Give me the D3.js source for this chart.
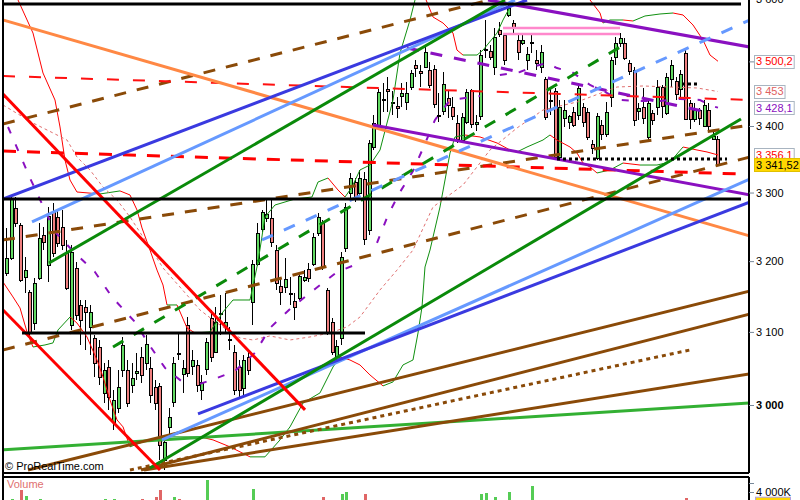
<!DOCTYPE html>
<html><head><meta charset="utf-8">
<script src="https://cdn.jsdelivr.net/npm/d3@7"></script>
<style>body{margin:0;background:#fff;}svg{display:block;font-family:"Liberation Sans",Arial,sans-serif;}</style>
</head><body><svg id="c" width="800" height="500"></svg>
<script>
// ---------- DATA ----------
const openP  = [3183,3205,3277,3252,3177,3156,3112,3176,3238,3194,3271,3264,3249,3212,3110,3190,3138,3135,3107,3092,
3079,3016,3052,2977,2996,3048,3048,3027,3043,3065,3057,3050,3024,3026,2927,2971,3004,3071,3042,3110,
3053,3054,3020,3049,3119,3072,3125,3108,3090,3072,3052,3023,3065,3142,3196,3246,3262,3262,3216,3164,
3163,3155,3143,3148,3173,3189,3196,3241,3255,3159,3114,3065,3092,3219,3299,3316,3299,3320,3245,3368,
3402,3441,3457,3437,3431,3446,3437,3460,3494,3485,3491,3486,3488,3417,3423,3443,3429,3405,3379,3406,
3455,3403,3415,3519,3516,3491,3550,3542,3574,3561,3534,3529,3502,3531,3502,3491,3472,3440,3454,3353,
3412,3406,3421,3417,3429,3421,3373,3352,3402,3388,3445,3507,3529,3529,3497,3486,3423,3429,3384,3420,
3429,3460,3420,3472,3469,3457,3513,3435,3411,3425,3400,3425,3380,3380];
const highP  = [3248,3295,3293,3255,3206,3159,3176,3255,3249,3279,3285,3274,3274,3231,3223,3199,3145,3145,3138,3096,
3089,3057,3061,3020,3048,3093,3061,3057,3071,3079,3096,3065,3034,3030,2957,2996,3065,3098,3061,3121,
3075,3061,3041,3092,3131,3135,3152,3155,3107,3082,3061,3068,3075,3202,3255,3274,3289,3289,3223,3177,
3205,3177,3155,3180,3187,3197,3241,3270,3260,3162,3119,3089,3213,3285,3329,3322,3334,3331,3379,3417,
3457,3466,3476,3454,3445,3466,3468,3487,3502,3494,3523,3499,3494,3451,3483,3454,3445,3417,3420,3457,
3457,3417,3518,3566,3526,3553,3562,3545,3591,3566,3542,3542,3523,3542,3518,3526,3476,3459,3459,3440,
3440,3417,3429,3466,3435,3428,3379,3420,3409,3437,3507,3539,3545,3537,3502,3491,3435,3459,3443,3425,
3471,3463,3482,3502,3476,3487,3518,3440,3435,3428,3440,3435,3394,3385];
const lowP   = [3179,3202,3249,3170,3155,3093,3103,3173,3216,3170,3206,3220,3216,3159,3103,3117,3082,3075,3068,3038,
3027,3003,2993,2967,2989,3038,2997,3016,3034,3030,3048,3003,2993,2927,2914,2957,2997,3061,3016,3038,
3041,3018,3007,3041,3058,3071,3096,3098,3075,3014,3010,3014,3041,3110,3193,3242,3257,3220,3159,3138,
3155,3138,3117,3145,3170,3170,3193,3236,3187,3096,3068,3061,3082,3213,3289,3286,3293,3223,3238,3363,
3399,3421,3421,3417,3412,3429,3425,3456,3476,3460,3490,3459,3428,3406,3417,3412,3409,3374,3374,3403,
3397,3392,3409,3505,3502,3479,3538,3494,3570,3542,3502,3526,3487,3513,3487,3482,3409,3417,3348,3348,
3398,3395,3398,3409,3399,3379,3357,3349,3379,3383,3429,3494,3523,3502,3479,3400,3409,3403,3379,3402,
3417,3412,3417,3460,3440,3440,3409,3395,3406,3402,3398,3394,3379,3339];
const closeP = [3205,3292,3255,3173,3187,3098,3169,3233,3228,3265,3212,3226,3223,3162,3213,3124,3117,3128,3128,3057,
3038,3048,3011,3007,3024,3082,3003,3037,3046,3041,3083,3014,3003,2947,2951,2984,3057,3070,3050,3043,
3061,3027,3031,3086,3065,3114,3126,3114,3090,3020,3020,3061,3048,3196,3241,3271,3268,3228,3169,3156,
3174,3155,3135,3179,3177,3176,3235,3264,3192,3100,3072,3080,3206,3279,3322,3293,3322,3232,3374,3405,
3452,3442,3454,3436,3428,3451,3451,3482,3490,3482,3515,3463,3434,3416,3465,3432,3415,3380,3414,3452,
3403,3406,3510,3519,3507,3539,3543,3502,3585,3554,3515,3534,3511,3531,3497,3515,3414,3440,3353,3429,
3425,3415,3402,3459,3406,3383,3366,3415,3388,3421,3502,3529,3537,3505,3485,3409,3428,3412,3435,3409,
3460,3431,3476,3494,3449,3480,3411,3411,3425,3412,3432,3400,3385,3341.52];
// volume in thousands (only the tallest bars reach the visible strip)
const volumeK = [2500,3222,2500,4222,3556,2500,2500,3200,2500,2500,2500,2500,2500,2500,2500,2500,2500,2500,2500,2500,
2500,3200,2500,3200,2500,2500,2500,2500,2500,3200,2500,2500,3444,4222,2500,2500,3444,3200,2500,2500,
2500,2500,2500,5333,2500,2500,2500,2500,2500,2500,2500,2500,2500,4333,2500,2500,2500,2500,2500,2500,
2500,2500,2500,2500,2500,2500,2500,2500,3444,2500,2500,2500,3778,4000,2500,2500,2500,3778,2500,2500,
2500,2500,2500,2500,2500,2500,2500,2500,2500,2500,2500,2500,2500,2500,2500,2500,2500,2500,2500,2500,
2500,2500,3778,3889,2500,3444,2500,2500,4000,2500,2500,2500,2500,4667,2500,2500,2500,2500,2500,2500,
2500,2500,2500,2500,2500,2500,2500,2500,2500,2500,2500,2500,2500,2500,2500,2500,2500,2500,2500,2500,
2500,2500,2500,2500,2500,2500,3333,2500,2500,2500,2500,2500,2500,2700];

// Bollinger-type bands: [bar index, price]
const upperBand = [[2.37,3597.7],[5.59,3544.8],[7.74,3481.8],[10.32,3439.9],[11.4,3398.5],[12.47,3348.5],[13.55,3318.6],
[15.05,3300.8],[20,3297.9],[24.3,3302.4],[26.45,3296.4],[27.96,3274.3],[29.03,3248],[30.75,3216],[32.26,3187.2],
[33.55,3165.9],[34.41,3137.7],[36.56,3137.7],[38.71,3105.5],[40.43,3098.5],[43.66,3100],[46.45,3127.9],[48.6,3144.7],
[52.26,3144.7],[53.98,3198.7],[55.48,3264],[57.63,3281.6],[61.94,3290.5],[65.59,3293.4],[66.88,3315.6],[69.03,3321.6],
[71.18,3303.8],[72.69,3293.4],[74.19,3308.1],[75.91,3333.6],[78.06,3341],[80.22,3363.6],[83.01,3439.9],[84.52,3513.1],
[86.67,3565.6],[87.74,3597.7],[88.82,3622],[91.61,3570.4],[93.76,3560.8],[95.91,3544.8],[96.77,3517.8],[98.06,3510],
[101.08,3510],[102.37,3517.8],[105.38,3544.8],[106.67,3565.6],[108.17,3586.5],[110.32,3613.9],[124.3,3613.9],
[125.38,3597.7],[127.53,3576.8],[128.17,3560.8],[129.68,3565.6],[132.47,3565.6],[134.62,3564],[137.2,3572],
[140.43,3575.2],[143.23,3576.8],[145.38,3573.6],[147.53,3557.6],[149.68,3533.7],[151.18,3510],[152.9,3500.2]];
const middleBand = [[-0.86,3432.2],[5.59,3404.6],[9.89,3389.4],[12.9,3378.7],[15.05,3353],[17.85,3333.6],[20.65,3308.1],
[23.66,3289],[26.45,3264],[29.25,3234.9],[30.75,3220.4],[33.55,3190.2],[37.2,3163],[41.5,3130.7],[44.3,3116.6],
[47.31,3102.7],[50.11,3091.6],[52.9,3088.8],[56.56,3094.4],[60.86,3088.8],[65.16,3093],[69.46,3098.5],[73.12,3107],
[75.91,3120.8],[80.22,3158.9],[83.87,3187.2],[87.31,3216],[91.61,3278.7],[98.06,3311.1],[103.87,3363.6],[109.68,3397],
[115.27,3424.5],[122.58,3436.8],[131.18,3460],[136.77,3461.6],[142.58,3460],[148.39,3458.5],[152.9,3453]];
const lowerBand = [[-0.86,3170.2],[1.29,3149],[2.8,3133.5],[4.3,3100],[5.59,3079.1],[8.17,3081.9],[9.89,3084.7],
[10.97,3102.7],[13.55,3120.8],[15.05,3112.4],[17.2,3093],[19.35,3061.2],[20.65,3038],[22.15,3006.8],[23.66,2980],
[24.95,2970.7],[26.45,2944.2],[28.6,2949.4],[32.9,2957.4],[37.2,2957.4],[41.5,2957.4],[44.3,2953.4],[47.96,2944.2],
[52.26,2931],[55.48,2931],[58.71,2953.4],[60.86,2970.7],[63.66,3002.8],[67.31,3016.3],[70.11,3051.6],[71.61,3065.3],
[73.76,3061.2],[75.91,3054.4],[78.06,3040.7],[80.86,3025.8],[83.01,3031.2],[85.16,3054.4],[87.31,3061.2],[88.39,3098.5],
[89.25,3134.9],[89.89,3191.6],[90.97,3216],[93.12,3278.7],[95.27,3359],[96.34,3383.3],[98.49,3386.3],[101.72,3383.3],
[105.38,3374.2],[108.17,3363.6],[109.68,3360.6],[111.83,3368.1],[115.27,3378.7],[116.77,3386.3],[118.28,3378.7],
[121.08,3368.1],[122.58,3359],[123.87,3344],[125.38,3338],[126.88,3329.1],[129.68,3333.6],[132.47,3344],[136.13,3341],
[139.78,3341],[142.58,3345.5],[145.38,3368.1],[148.39,3363.6],[150.54,3360.6],[152.9,3356.1]];
// stop-and-reverse style dotted indicator, in legs
const sarLegs = [
 [[0.22,3398.5],[4.95,3321.6],[10.32,3242.1],[13.98,3216],[18.92,3184.4],[22.58,3148.9],[27.53,3113.8],[30.75,3080.5],[33.98,3050.3],[38.28,3028.5]],
 [[41.5,3028.5],[45.16,3036.6],[49.03,3046.2],[53.33,3070.9],[56.56,3105.5],[60.86,3132.1],[66.24,3160.3],[70.97,3184.4],[76.34,3198.7]],
 [[79.57,3226.2],[81.94,3267],[84.52,3300.8],[87.31,3332.1],[89.68,3369.6],[92.04,3409.2],[95.27,3439.9],[98.49,3443],[101.72,3446.1]],
 [[106,3478.6],[110.3,3483.3],[113.5,3492.6],[116.13,3497.3],[118.28,3489.5],[121.5,3483.3],[125.38,3463.2],[128.6,3452.3],[131.83,3439.9],
  [136.13,3438.4],[140.43,3438.4],[144.73,3441.5],[149.03,3439.9],[151.61,3430.7],[152.9,3428.1]]
];
// hand-drawn lines: name, start (bar index, price), end (bar index, price)
const drawnLines = [
 ["brownDashUp",-0.86,3403,103.66,3597.7],["brownDashMid",-0.86,3230.5,159.78,3401.5],["brownDashLow",-0.86,3075,159.78,3353],
 ["redDashThin",-0.86,3477.1,159.78,3439.9],["redDash",-0.86,3362.1,157.63,3327.6],
 ["lgreen",-0.86,2940.2,159.78,3002.8],
 ["brown1",4.52,2913.8,159.78,3157.5],["brown2",28.82,2913.8,159.78,3125],["brown3",26.45,2913.8,146.88,3075],["brown4",29.46,2913.8,159.78,3042.1],
 ["orange",-0.86,3565.6,159.78,3236.3],
 ["purpleDash",86.02,3521,151.61,3419.9],
 ["purpleUp",103.44,3597.7,159.78,3522.6],["purpleLow",78.71,3401.5,159.78,3296.4],
 ["greenDash",22.8,3079.1,133.33,3529],["lblueDash",54.84,3230.5,159.78,3565.6],
 ["lblueUp",5.38,3256.7,109.25,3597.7],["lblueLow",33.33,2953.4,159.78,3320.1],
 ["blueUp",-0.86,3290.5,111.83,3597.7],["blueLow",41.08,2988,159.78,3286.1],
 ["greenUp",9.03,3197.3,107.1,3597.7],["greenLow",30.75,2916.5,157.85,3410.7],
 ["red1",-0.86,3449.2,64.09,2993.4],["red2",-0.86,3130.7,32.9,2913.8],
 ["pink1",106.67,3552.8,131.83,3552.8],["pink2",106.67,3543.3,131.83,3543.3],
 ["black1",-0.86,3591.3,157.85,3591.3],["black2",-0.86,3290.5,157.85,3290.5],["black3",3.23,3098.5,76.99,3098.5],
 ["blackDot1",118.28,3350,154.84,3350],["blackDot2",145.16,3464.7,148.39,3464.7]
];
const priceTicks = [3000,3100,3200,3300,3400,3500,3600];
const priceTickLabels = ["3 000","3 100","3 200","3 300","3 400","","3 600"];
const volumeTicks = [4000,5000];
const volumeTickLabels = ["4 000K",""];
const valueLabels = [3500.2,3453,3428.1,3356.1,3341.52];
const valueDecimals = [1,0,1,1,2];

// ---------- STYLES ----------
const lineStyle = {
 brownDashUp:["#8a4a08",3,"12,11"],brownDashMid:["#8a4a08",3,"12,11"],brownDashLow:["#8a4a08",3,"12,11"],
 redDashThin:["#ff1010",2,"12,14"],redDash:["#ff0000",3,"13,11"],lgreen:["#33b033",3,null],
 brown1:["#8a4a08",3,null],brown2:["#8a4a08",3,null],brown3:["#8a4a08",3,"4,4"],brown4:["#8a4a08",3,null],
 orange:["#ff8844",3,null],purpleDash:["#8a10c0",3,"12,12"],purpleUp:["#8a10c0",3,null],purpleLow:["#8a10c0",3,null],
 greenDash:["#0a8a0a",3,"12,12"],lblueDash:["#6699ff",3,"12,12"],lblueUp:["#6699ff",3,null],lblueLow:["#6699ff",3,null],
 blueUp:["#3a3ae0",3,null],blueLow:["#3a3ae0",3,null],greenUp:["#0a8a0a",3,null],greenLow:["#0a8a0a",3,null],
 red1:["#ff0000",3,null],red2:["#ff0000",3,null],pink1:["#ff88cc",2.5,null],pink2:["#ff88cc",2.5,null],
 black1:["#000",3,null],black2:["#000",3,null],black3:["#000",3,null],blackDot1:["#000",3,"3,3"],blackDot2:["#000",3,"3,3"]
};
const labelColor = ["#ff0000","#e06060","#8a10c0","#ff0000","#000"];

// ---------- SCALES ----------
const svg = d3.select("#c");
const x = d3.scaleLinear().domain([0,153]).range([7,718.45]);
const y = d3.scaleLog().domain([3000,3400]).range([405,126]);
const yv = d3.scaleLinear().domain([0,4000]).range([528,492]);
const loc = d3.formatLocale({decimal:",",thousands:" ",grouping:[3],currency:["",""]});

const L=3, R=749, T=0, B=473, VT=477, VB=500;
const defs = svg.append("defs");
defs.append("clipPath").attr("id","pc").append("rect").attr("x",L+1).attr("y",T).attr("width",R-L-1).attr("height",B-T);
defs.append("clipPath").attr("id","vc").append("rect").attr("x",L+1).attr("y",VT).attr("width",R-L-1).attr("height",VB-VT);

const plot = svg.append("g").attr("clip-path","url(#pc)");

// candles
const cg = plot.append("g").attr("shape-rendering","crispEdges");
d3.range(openP.length).forEach(i=>{
  const a = Math.round(x(i))-2;
  const up = closeP[i]>=openP[i];
  cg.append("line").attr("x1",a+1.5).attr("x2",a+1.5).attr("y1",y(highP[i])).attr("y2",y(lowP[i])).attr("stroke","#000");
  const yt = Math.round(y(Math.max(openP[i],closeP[i]))), yb = Math.round(y(Math.min(openP[i],closeP[i])));
  cg.append("rect").attr("x",a+0.5).attr("y",yt+0.5).attr("width",3).attr("height",Math.max(yb-yt,1))
    .attr("fill",up?"#62d962":"#f08080").attr("stroke","#000").attr("stroke-width",1);
});

// bands (red while falling, green while rising)
function bandSegs(pts){
  for(let k=1;k<pts.length;k++){
    const p0=pts[k-1], p1=pts[k];
    plot.append("line").attr("x1",x(p0[0])).attr("y1",y(p0[1])).attr("x2",x(p1[0])).attr("y2",y(p1[1]))
      .attr("stroke", p1[1]<p0[1]?"#ff0000":"#109010").attr("stroke-width",1);
  }
}
bandSegs(upperBand); bandSegs(lowerBand);
const ln = d3.line().x(d=>x(d[0])).y(d=>y(d[1]));
plot.append("path").attr("d",ln(middleBand)).attr("fill","none").attr("stroke","#e07070").attr("stroke-width",1).attr("stroke-dasharray","3,3");
sarLegs.forEach(leg=>{
  plot.append("path").attr("d",ln(leg)).attr("fill","none").attr("stroke","#8a10c0").attr("stroke-width",2).attr("stroke-dasharray","7,12");
});

// drawn lines
drawnLines.forEach(d=>{
  const s = lineStyle[d[0]];
  const l = plot.append("line").attr("x1",x(d[1])).attr("y1",y(d[2])).attr("x2",x(d[3])).attr("y2",y(d[4]))
    .attr("stroke",s[0]).attr("stroke-width",s[1]);
  if(s[2]) l.attr("stroke-dasharray",s[2]);
});

plot.append("text").attr("x",5).attr("y",470).attr("font-size",11).attr("fill","#000").text("© ProRealTime.com");

// volume
const vg = svg.append("g").attr("clip-path","url(#vc)").attr("shape-rendering","crispEdges");
volumeK.forEach((v,i)=>{
  const a = Math.round(x(i))-1;
  vg.append("rect").attr("x",a).attr("y",yv(v)).attr("width",3).attr("height",Math.max(0,yv(0)-yv(v)))
    .attr("fill",closeP[i]>=openP[i]?"#55cc55":"#e06666");
});
svg.append("text").attr("x",7).attr("y",488).attr("font-size",11).attr("fill","#e07070").text("Volume");

// frames
const fr = svg.append("g").attr("stroke","#000").attr("shape-rendering","crispEdges");
fr.append("line").attr("x1",L).attr("x2",L).attr("y1",0).attr("y2",VB).attr("stroke-width",1.5);
fr.append("line").attr("x1",R).attr("x2",R).attr("y1",0).attr("y2",B).attr("stroke-width",1.5);
fr.append("line").attr("x1",R).attr("x2",R).attr("y1",VT).attr("y2",VB).attr("stroke-width",1.5);
fr.append("line").attr("x1",L).attr("x2",R).attr("y1",B).attr("y2",B).attr("stroke-width",1.5);
fr.append("line").attr("x1",L).attr("x2",R).attr("y1",VT).attr("y2",VT).attr("stroke-width",1.5);

// price axis
const ax = svg.append("g").attr("transform",`translate(${R},0)`)
  .call(d3.axisRight(y).tickValues(priceTicks).tickSize(5).tickPadding(2).tickFormat((d,i)=>priceTickLabels[i]));
ax.select(".domain").remove();
ax.selectAll(".tick line").attr("stroke","#778899");
ax.selectAll(".tick text").attr("font-size",11).attr("fill","#000").attr("font-family","Liberation Sans, Arial, sans-serif")
  .attr("font-weight",d=>d===3000?"bold":"normal");

// volume axis
const vax = svg.append("g").attr("transform",`translate(${R},0)`)
  .call(d3.axisRight(yv).tickValues(volumeTicks).tickSize(5).tickPadding(2).tickFormat((d,i)=>volumeTickLabels[i]));
vax.select(".domain").remove();
vax.selectAll(".tick line").attr("stroke","#778899");
vax.selectAll(".tick text").attr("font-size",11).attr("fill","#000").attr("font-family","Liberation Sans, Arial, sans-serif");
// last volume box (mostly below the window)
const lv = volumeK[volumeK.length-1];
svg.append("rect").attr("x",755.5).attr("y",yv(lv)-6.5).attr("width",35).attr("height",13).attr("fill","#ffd700").attr("stroke","#b0a0e0");

// value labels on the price axis
valueLabels.forEach((v,k)=>{
  const txt = loc.format(",."+valueDecimals[k]+"f")(v);
  const yy = y(v);
  const isLast = k===valueLabels.length-1;
  const box = svg.append("rect").attr("x",754.5).attr("y",Math.round(yy-6.5)+0.5).attr("height",13)
    .attr("fill",isLast?"#ffd700":"#fff").attr("stroke",isLast?"#e0c000":"#a8b4c0");
  const t = svg.append("text").attr("x",756).attr("y",yy).attr("dy","0.36em").attr("font-size",11)
    .attr("fill",labelColor[k]).text(txt);
  box.attr("width",t.node().getComputedTextLength()+3);
});
</script></body></html>
